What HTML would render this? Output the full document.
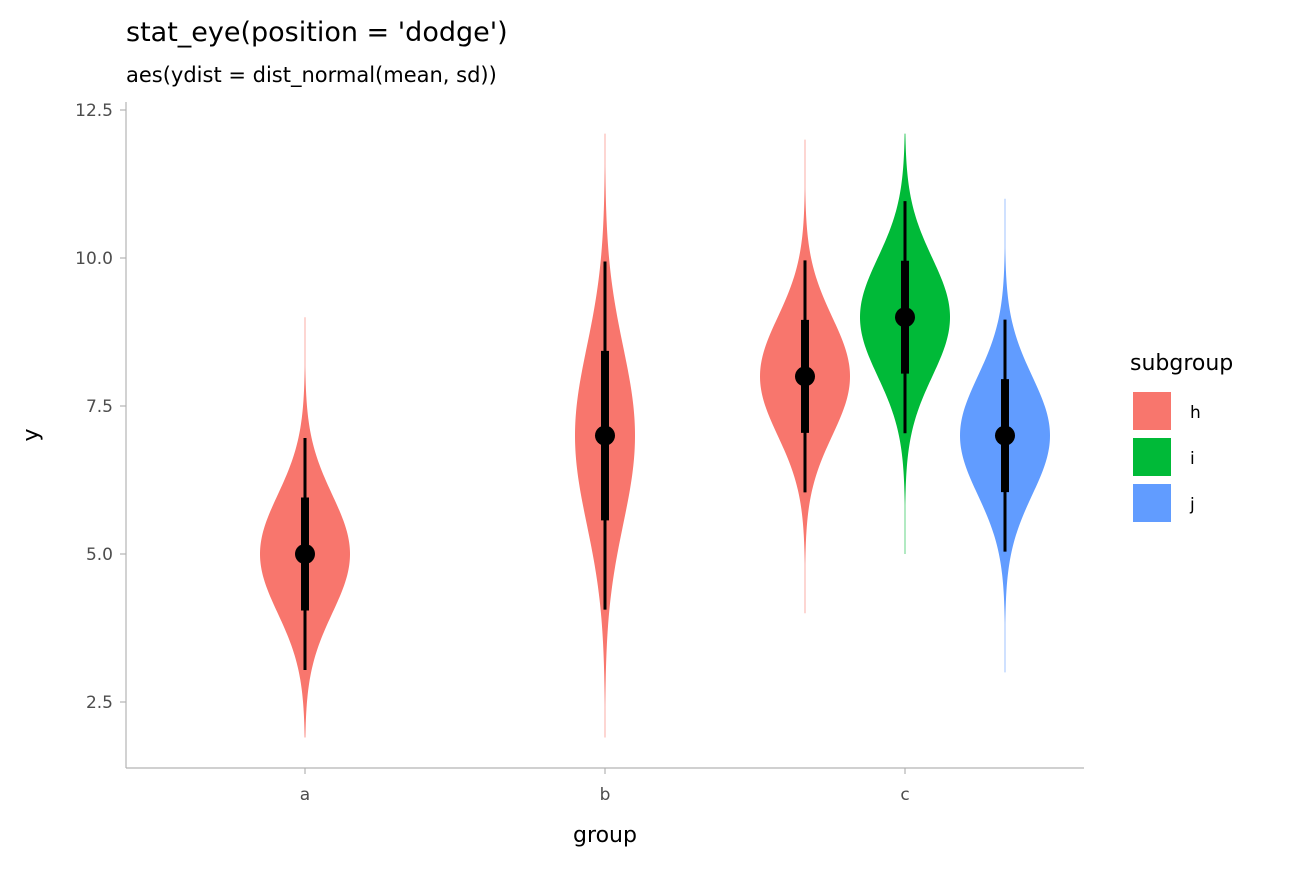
<!DOCTYPE html>
<html><head><meta charset="utf-8"><style>
body{margin:0;background:#fff;}
text{font-family:"DejaVu Sans","Liberation Sans",sans-serif;}
</style></head><body>
<svg id="chart" width="1296" height="864" xmlns="http://www.w3.org/2000/svg">
<rect width="1296" height="864" fill="#fff"/>
<text x="126" y="41" font-size="27" fill="#000">stat_eye(position = 'dodge')</text>
<text x="126" y="82" font-size="21" fill="#000">aes(ydist = dist_normal(mean, sd))</text>
<g id="plot"></g>
<line x1="126" y1="102" x2="126" y2="768" stroke="#b3b3b3" stroke-width="1.2"/>
<line x1="126" y1="768" x2="1084" y2="768" stroke="#b3b3b3" stroke-width="1.2"/>
<text x="605" y="842" font-size="22" text-anchor="middle" fill="#000">group</text>
<text x="38" y="435" font-size="22" text-anchor="middle" fill="#000" transform="rotate(-90 38 435)">y</text>
<g>
<text x="1130" y="370" font-size="22" fill="#000">subgroup</text>
<rect x="1133" y="392" width="38" height="38" fill="#F8766D"/>
<text x="1190" y="418" font-size="17" fill="#000">h</text>
<rect x="1133" y="438" width="38" height="38" fill="#00BA38"/>
<text x="1190" y="464" font-size="17" fill="#000">i</text>
<rect x="1133" y="484" width="38" height="38" fill="#619CFF"/>
<text x="1190" y="510" font-size="17" fill="#000">j</text>
</g>
</svg>
<script>
const groups=["a","b","c","c","c"];
const subgroups=["h","h","h","i","j"];
const means=[5,7,8,9,7];
const sds=[1,1.5,1,1,1];
const yTicks=[2.5,5.0,7.5,10.0,12.5];
const xCats=["a","b","c"];
const colors={h:"#F8766D",i:"#00BA38",j:"#619CFF"};
const NS="http://www.w3.org/2000/svg";
const svg=document.getElementById('plot');
const yS=v=>110+(12.5-v)*59.2;
const xS=c=>305+xCats.indexOf(c)*300;
function mk(t,a){const e=document.createElementNS(NS,t);for(const k in a)e.setAttribute(k,a[k]);svg.appendChild(e);return e;}
yTicks.forEach(v=>{
 const l=mk('line',{x1:120,x2:126,y1:yS(v),y2:yS(v),stroke:'#b3b3b3','stroke-width':1.2});
 
 
 const t=mk('text',{x:113,y:yS(v)+6,'font-size':17,'text-anchor':'end',fill:'#4d4d4d'});t.textContent=v.toFixed(1);
 
 
});
xCats.forEach(c=>{
 const l=mk('line',{x1:xS(c),x2:xS(c),y1:768,y2:774,stroke:'#b3b3b3','stroke-width':1.2});
 
 
 const t=mk('text',{x:xS(c),y:800,'font-size':17,'text-anchor':'middle',fill:'#4d4d4d'});t.textContent=c;
 
 
});
const dens=(y,m,s)=>Math.exp(-0.5*((y-m)/s)**2)/(s*Math.sqrt(2*Math.PI));
groups.forEach((g,i)=>{
 const nInGroup=groups.filter(x=>x===g).length;
 const idx=groups.slice(0,i).filter(x=>x===g).length;
 const cx=xS(g)+(idx-(nInGroup-1)/2)*100;
 const m=means[i],s=sds[i],W=112.8;
 const lo=Math.max(m-4*s,1.9),hi=Math.min(m+4*s,12.1);
 let L=[],R=[];
 for(let k=0;k<=200;k++){const y=lo+(hi-lo)*k/200;const w=Math.max(dens(y,m,s)*W,0.3);R.push((cx+w).toFixed(2)+','+yS(y).toFixed(2));L.unshift((cx-w).toFixed(2)+','+yS(y).toFixed(2));}
 const p=mk('polygon',{points:R.concat(L).join(' '),fill:colors[subgroups[i]]});
 
 
 const t1=mk('line',{x1:cx,x2:cx,y1:yS(m-1.96*s),y2:yS(m+1.96*s),stroke:'#000','stroke-width':3});
 
 
 const t2=mk('line',{x1:cx,x2:cx,y1:yS(m-0.954*s),y2:yS(m+0.954*s),stroke:'#000','stroke-width':8});
 
 
 const c=mk('circle',{cx:cx,cy:yS(m),r:10,fill:'#000'});
 
 
});
</script>
</body></html>
